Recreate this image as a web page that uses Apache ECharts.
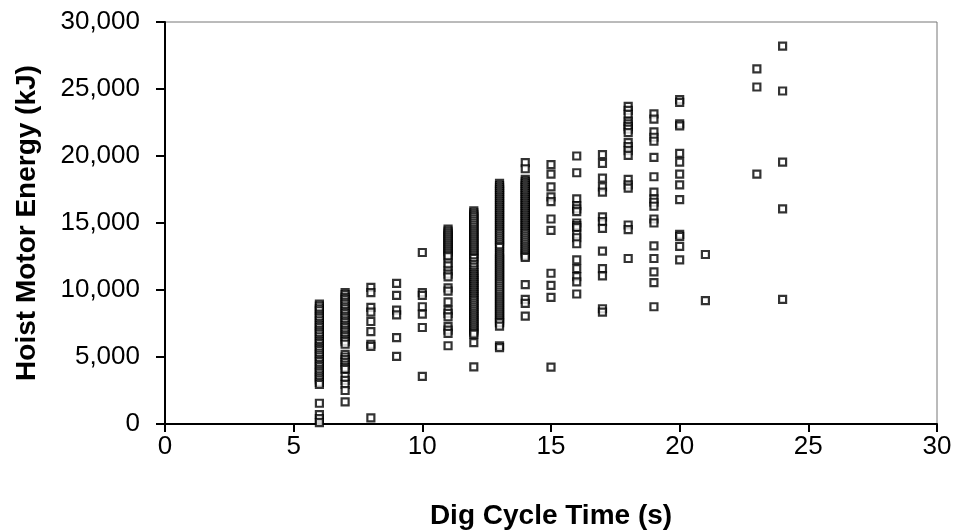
<!DOCTYPE html>
<html><head><meta charset="utf-8">
<script src="https://cdn.jsdelivr.net/npm/echarts@6/dist/echarts.min.js"></script>
<style>html,body{margin:0;padding:0;background:#fff}#c{width:956px;height:531px}</style>
</head><body><div id="c"></div>
<script>
// Dig cycle time (s) categories with the hoist motor energies (kJ) observed at each
const t6 = [8950,8800,8600,8450,8200,8050,7900,7700,7500,7350,7200,7000,6850,6700,6500,6300,6150,6000,5800,5650,5500,5300,5150,5000,4800,4650,4450,4300,4100,3950,3800,3600,3450,3300,3100,2950,1550,700,400,100];
const t7 = [9800,9650,9450,9300,9100,8950,8750,8600,8400,8250,8050,7900,7700,7550,7350,7200,7000,6850,6650,6500,6300,6150,5950,5200,5000,4800,4600,4400,4200,4080,3550,3250,2950,2500,1650];
const t8 = [10200,9800,8700,8350,7650,6900,5950,5800,450];
const t9 = [10500,9600,8500,8150,6450,5050];
const t10 = [12800,9800,9600,8750,8200,7200,3550];
const t11 = [14550,14400,14250,14100,13950,13800,13650,13500,13350,13200,13050,12900,12750,12600,12480,12030,11800,11430,11190,10980,10160,9920,9120,8500,8260,8000,7260,7010,6760,5840];
const t12 = [15900,15750,15600,15450,15300,15150,15000,14850,14700,14550,14400,14250,14100,13950,13800,13650,13500,13350,13200,13050,12900,12750,12600,12450,12350,12100,11900,11700,11480,11300,11150,11000,10850,10700,10550,10400,10250,10100,9950,9800,9650,9500,9350,9200,9050,8900,8750,8600,8450,8300,8150,8000,7850,7700,7550,7400,7250,7100,6950,6800,6700,6080,4270];
const t13 = [17950,17800,17650,17500,17350,17200,17050,16900,16750,16600,16450,16300,16150,16000,15850,15700,15550,15400,15250,15100,14950,14800,14650,14500,14350,14200,14050,13900,13750,13600,13450,13300,13180,12850,12700,12550,12400,12250,12100,11950,11800,11650,11500,11350,11200,11050,10900,10750,10600,10450,10300,10150,10000,9850,9700,9550,9400,9250,9100,8950,8800,8650,8500,8350,8200,8050,7900,7750,7600,7550,7300,5840,5700];
const t14 = [19500,19050,18250,18100,17950,17800,17650,17500,17350,17200,17050,16900,16750,16600,16450,16300,16150,16000,15850,15700,15550,15400,15250,15100,14950,14800,14650,14500,14350,14200,14050,13900,13750,13600,13450,13300,13150,13000,12850,12700,12550,12430,10400,9300,9000,8050];
const t15 = [19350,18650,17700,16950,16600,15300,14450,11250,10350,9450,4250];
const t16 = [20000,18750,16800,16300,16050,15850,15000,14800,14650,14150,13900,13450,12250,11600,11000,10600,9700];
const t17 = [20100,19450,18350,17700,17300,15450,15100,14600,12900,11600,11050,8600,8350];
const t18 = [23700,23400,23100,22600,22400,22200,22000,21750,21000,20700,20400,20050,18250,17850,17600,14850,14500,12350];
const t19 = [23150,22750,21800,21400,21100,19900,18450,17300,16800,16550,16250,15300,15000,13300,12350,11350,10550,8750];
const t20 = [24200,24000,22400,22250,20200,19550,18650,17850,16750,14150,14000,13250,12250];
const t21 = [12650,9200];
const t23 = [26500,25150,18650];
const t24 = [28200,24850,19550,16050,9300];

const cycleTimes = [6,7,8,9,10,11,12,13,14,15,16,17,18,19,20,21,23,24];
const energies = [t6,t7,t8,t9,t10,t11,t12,t13,t14,t15,t16,t17,t18,t19,t20,t21,t23,t24];

const points = [];
cycleTimes.forEach((t, i) => energies[i].forEach(e => points.push([t, e])));

const chart = echarts.init(document.getElementById('c'));
const font = 'Liberation Sans, Arial, sans-serif';
chart.setOption({
  animation: false,
  backgroundColor: '#fff',
  grid: {left: 165, right: 19, top: 22, bottom: 107, show: true, borderColor: '#777', borderWidth: 1,
    containLabel: false, outerBoundsMode: 'none'},
  xAxis: {
    type: 'value', min: 0, max: 30, interval: 5,
    name: 'Dig Cycle Time (s)', nameLocation: 'middle', nameGap: 78,
    nameTextStyle: {fontFamily: font, fontWeight: 'bold', fontSize: 28, color: '#000'},
    axisLine: {onZero: false, lineStyle: {color: '#000', width: 2}},
    axisTick: {show: true, length: 8, lineStyle: {color: '#000', width: 2}},
    axisLabel: {fontFamily: font, fontSize: 26, color: '#000', margin: 10},
    splitLine: {show: false}
  },
  yAxis: {
    type: 'value', min: 0, max: 30000, interval: 5000,
    name: 'Hoist Motor Energy (kJ)', nameLocation: 'middle', nameGap: 124, nameRotate: 90,
    nameTextStyle: {fontFamily: font, fontWeight: 'bold', fontSize: 28, color: '#000'},
    axisLine: {show: true, onZero: false, lineStyle: {color: '#000', width: 2}},
    axisTick: {show: true, length: 9, lineStyle: {color: '#000', width: 2}},
    axisLabel: {fontFamily: font, fontSize: 26, color: '#000', margin: 25,
      formatter: v => v.toLocaleString('en-US')},
    splitLine: {show: false}
  },
  series: [{
    type: 'scatter', data: points, symbol: 'rect', symbolSize: 7,
    itemStyle: {color: '#fff', borderColor: '#000', borderWidth: 2.2}
  }]
});
</script></body></html>
